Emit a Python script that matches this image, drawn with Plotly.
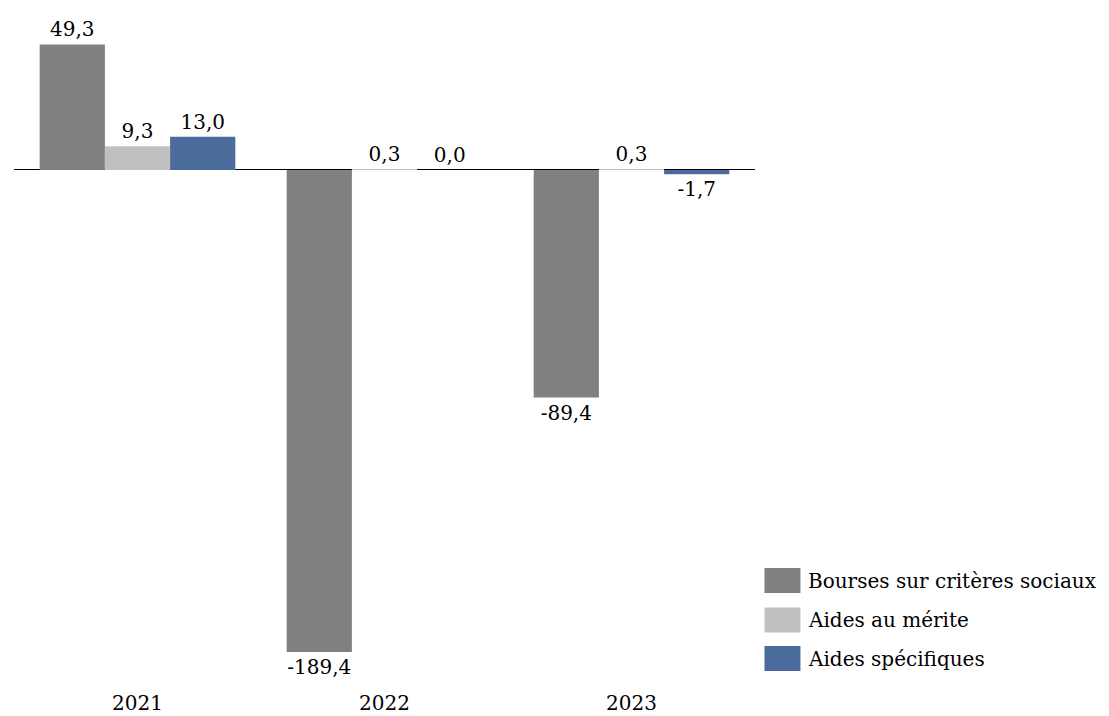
import plotly.graph_objects as go

categories = ["2021", "2022", "2023"]
bourses = [49.3, -189.4, -89.4]
merite = [9.3, 0.3, 0.3]
specifiques = [13.0, 0.0, -1.7]
series_names = ["Bourses sur critères sociaux", "Aides au mérite", "Aides spécifiques"]
colors = ["#808080", "#C0C0C0", "#4A6B9B"]

W, H = 1109, 716
L, R, T, B = 13.5, 353.5, 5, 27
FONT = "DejaVu Serif"
FS = 20

fig = go.Figure()
for name, vals, col in zip(series_names, [bourses, merite, specifiques], colors):
    fig.add_trace(go.Bar(
        x=categories, y=vals, name=name, marker=dict(color=col, line=dict(width=0)),
        text=vals, texttemplate="%{y:.1f}", textposition="outside",
        textfont=dict(family=FONT, size=FS, color="black"), cliponaxis=False,
        showlegend=False,
    ))

def px_to_paper_x(px):
    return (px - L) / (W - L - R)

def px_to_paper_y(py):
    return (H - B - py) / (H - T - B)

shapes = []
annotations = []
row_y = [580.5, 620, 658.5]
for i, (name, col) in enumerate(zip(series_names, colors)):
    cy = row_y[i]
    shapes.append(dict(type="rect", xref="paper", yref="paper",
                       x0=px_to_paper_x(765), x1=px_to_paper_x(801),
                       y0=px_to_paper_y(cy - 12.5), y1=px_to_paper_y(cy + 12.5),
                       fillcolor=col, line=dict(width=0)))
    annotations.append(dict(xref="paper", yref="paper", x=px_to_paper_x(807), y=px_to_paper_y(cy),
                            xanchor="left", yanchor="middle", text=name, showarrow=False,
                            font=dict(family=FONT, size=FS, color="black")))

fig.update_layout(
    width=W, height=H,
    margin=dict(l=L, r=R, t=T, b=B, pad=0, autoexpand=False),
    paper_bgcolor="white", plot_bgcolor="white",
    barmode="group", bargap=0.208, bargroupgap=0,
    separators=", ",
    font=dict(family=FONT, size=FS, color="black"),
    xaxis=dict(showgrid=False, showline=False, ticks="", automargin=False,
               tickfont=dict(family=FONT, size=FS, color="black")),
    yaxis=dict(range=[-203.9, 64.8], showgrid=False, showticklabels=False, zeroline=True,
               zerolinecolor="black", zerolinewidth=1, showline=False, ticks="", automargin=False),
    shapes=shapes, annotations=annotations,
)

fig.write_html("out.html", config={"displayModeBar": False},
               post_script="document.body.style.margin='0';document.body.style.padding='0';")
